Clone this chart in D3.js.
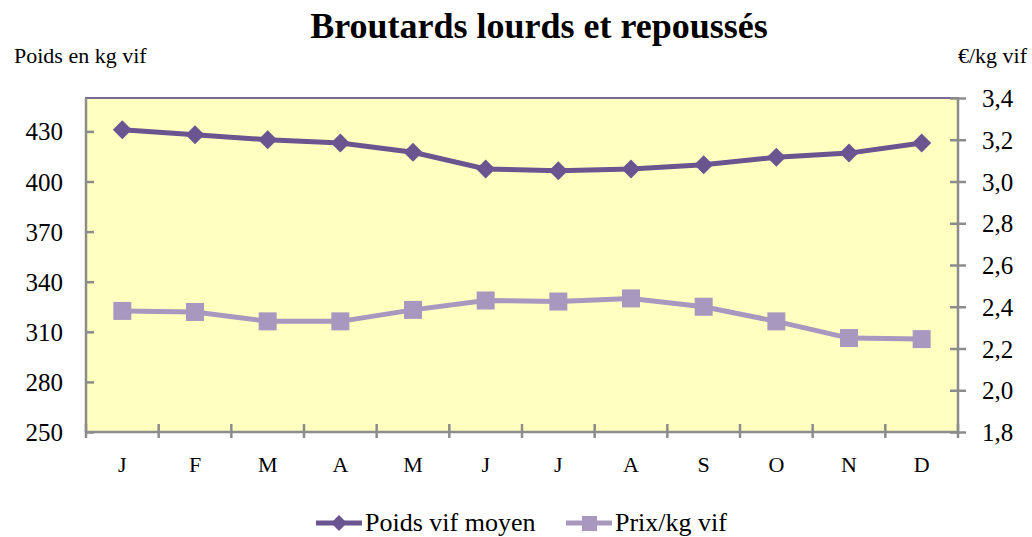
<!DOCTYPE html>
<html>
<head>
<meta charset="utf-8">
<script src="https://cdn.jsdelivr.net/npm/d3@7"></script>
<style>
  body { margin: 0; background: #fff; }
  svg text { font-family: "Liberation Serif", "Times New Roman", serif; }
</style>
</head>
<body>
<div class="chart"></div>
<script>
const months = ["J", "F", "M", "A", "M", "J", "J", "A", "S", "O", "N", "D"]
const poidsVif = [431, 428, 425, 423, 417.5, 407.5, 406.5, 407.5, 410, 414.5, 417, 423]
const prixKg = [2.38, 2.375, 2.33, 2.33, 2.385, 2.43, 2.425, 2.44, 2.40, 2.33, 2.25, 2.245]
const leftTicks = [250, 280, 310, 340, 370, 400, 430]
const rightTicks = [1.8, 2.0, 2.2, 2.4, 2.6, 2.8, 3.0, 3.2, 3.4]

function drawChart() {
  const dimensions = {
    width: 1032,
    height: 537,
    margin: { top: 98, right: 74, bottom: 105, left: 86 },
  }
  dimensions.boundedWidth = dimensions.width - dimensions.margin.left - dimensions.margin.right
  dimensions.boundedHeight = dimensions.height - dimensions.margin.top - dimensions.margin.bottom

  const darkPurple = "#6b5590"
  const lightPurple = "#a898c0"
  const axisGrey = "#8c8c8c"
  const serif = '"Liberation Serif", "Times New Roman", serif'

  const wrapper = d3.select(".chart")
    .append("svg")
    .attr("width", dimensions.width)
    .attr("height", dimensions.height)
    .style("font-family", serif)

  const bounds = wrapper.append("g")
    .attr("transform", `translate(${dimensions.margin.left},${dimensions.margin.top})`)

  const xScale = d3.scaleBand()
    .domain(d3.range(months.length))
    .range([0, dimensions.boundedWidth])

  const yLeft = d3.scaleLinear()
    .domain([250, 450])
    .range([dimensions.boundedHeight, 0])

  const yRight = d3.scaleLinear()
    .domain([1.8, 3.4])
    .range([dimensions.boundedHeight, 0])

  // plot area
  bounds.append("rect")
    .attr("width", dimensions.boundedWidth)
    .attr("height", dimensions.boundedHeight)
    .attr("fill", "#ffffc0")
    .attr("stroke", "#7a6698")
    .attr("stroke-width", 2)

  // left axis
  const yLeftAxis = bounds.append("g")
    .call(d3.axisLeft(yLeft).tickValues(leftTicks).tickSize(8))
    .attr("font-family", null)
    .attr("font-size", null)
  yLeftAxis.selectAll(".tick line").attr("x2", 8)
  yLeftAxis.selectAll("line, path").attr("stroke", axisGrey).attr("stroke-width", 2.5)
  yLeftAxis.select(".domain").attr("d", `M0,0V${dimensions.boundedHeight}`)
  yLeftAxis.selectAll("text")
    .attr("fill", "#000")
    .style("font-family", serif)
    .style("font-size", "25px")
    .attr("x", -23)
    .attr("dy", "0.34em")

  // right axis
  const yRightAxis = bounds.append("g")
    .attr("transform", `translate(${dimensions.boundedWidth},0)`)
    .call(d3.axisRight(yRight).tickValues(rightTicks).tickSize(8)
      .tickFormat(d => d3.format(".1f")(d).replace(".", ",")))
    .attr("font-family", null)
    .attr("font-size", null)
  yRightAxis.selectAll(".tick line").attr("x1", -8)
  yRightAxis.selectAll("line, path").attr("stroke", axisGrey).attr("stroke-width", 2.5)
  yRightAxis.select(".domain").attr("d", `M0,0V${dimensions.boundedHeight}`)
  yRightAxis.selectAll("text")
    .attr("fill", "#000")
    .style("font-family", serif)
    .style("font-size", "25px")
    .attr("x", 24)
    .attr("dy", "0.34em")

  // bottom axis with ticks between categories
  const xAxis = bounds.append("g")
    .attr("transform", `translate(0,${dimensions.boundedHeight})`)
  xAxis.append("line")
    .attr("x1", 0)
    .attr("x2", dimensions.boundedWidth)
    .attr("stroke", axisGrey)
    .attr("stroke-width", 2.5)
  xAxis.selectAll(".cat-tick")
    .data(d3.range(months.length + 1))
    .enter().append("line")
    .attr("x1", d => d * xScale.bandwidth())
    .attr("x2", d => d * xScale.bandwidth())
    .attr("y1", -8)
    .attr("y2", 6)
    .attr("stroke", axisGrey)
    .attr("stroke-width", 2.5)
  xAxis.selectAll(".month")
    .data(months)
    .enter().append("text")
    .attr("x", (d, i) => xScale(i) + xScale.bandwidth() / 2)
    .attr("y", 40)
    .style("text-anchor", "middle")
    .style("font-size", "22px")
    .text(d => d)

  const cx = i => xScale(i) + xScale.bandwidth() / 2

  // prix line
  const prixLine = d3.line()
    .x((d, i) => cx(i))
    .y(d => yRight(d))
  bounds.append("path")
    .attr("d", prixLine(prixKg))
    .attr("fill", "none")
    .attr("stroke", lightPurple)
    .attr("stroke-width", 5)
  bounds.selectAll(".prix-dot")
    .data(prixKg)
    .enter().append("rect")
    .attr("x", (d, i) => cx(i) - 9)
    .attr("y", d => yRight(d) - 9)
    .attr("width", 18)
    .attr("height", 18)
    .attr("fill", lightPurple)

  // poids line
  const poidsLine = d3.line()
    .x((d, i) => cx(i))
    .y(d => yLeft(d))
  bounds.append("path")
    .attr("d", poidsLine(poidsVif))
    .attr("fill", "none")
    .attr("stroke", darkPurple)
    .attr("stroke-width", 5)
  const diamond = d3.symbol().type(d3.symbolDiamond2).size(230)
  bounds.selectAll(".poids-dot")
    .data(poidsVif)
    .enter().append("path")
    .attr("d", diamond)
    .attr("transform", (d, i) => `translate(${cx(i)},${yLeft(d)})`)
    .attr("fill", darkPurple)

  // title and axis titles
  wrapper.append("text")
    .attr("x", 539)
    .attr("y", 38)
    .style("text-anchor", "middle")
    .style("font-size", "36px")
    .style("font-weight", "bold")
    .text("Broutards lourds et repoussés")

  wrapper.append("text")
    .attr("x", 14)
    .attr("y", 63)
    .style("font-size", "22px")
    .text("Poids en kg vif")

  wrapper.append("text")
    .attr("x", 1027)
    .attr("y", 63)
    .style("text-anchor", "end")
    .style("font-size", "22px")
    .text("€/kg vif")

  // legend
  const legendItems = [
    { label: "Poids vif moyen", color: darkPurple, shape: "diamond", x: 316 },
    { label: "Prix/kg vif", color: lightPurple, shape: "square", x: 566 },
  ]
  const legend = wrapper.append("g").attr("transform", "translate(0,523)")
  legendItems.forEach(item => {
    const g = legend.append("g").attr("transform", `translate(${item.x},0)`)
    g.append("line")
      .attr("x1", 0).attr("x2", 46)
      .attr("stroke", item.color)
      .attr("stroke-width", 5)
    if (item.shape === "diamond") {
      g.append("path")
        .attr("d", d3.symbol().type(d3.symbolDiamond2).size(160))
        .attr("transform", "translate(23,0)")
        .attr("fill", item.color)
    } else {
      g.append("rect")
        .attr("x", 16).attr("y", -7)
        .attr("width", 15).attr("height", 15)
        .attr("fill", item.color)
    }
    g.append("text")
      .attr("x", 49)
      .attr("y", 8)
      .style("font-size", "26px")
      .text(item.label)
  })
}

drawChart()
</script>
</body>
</html>
